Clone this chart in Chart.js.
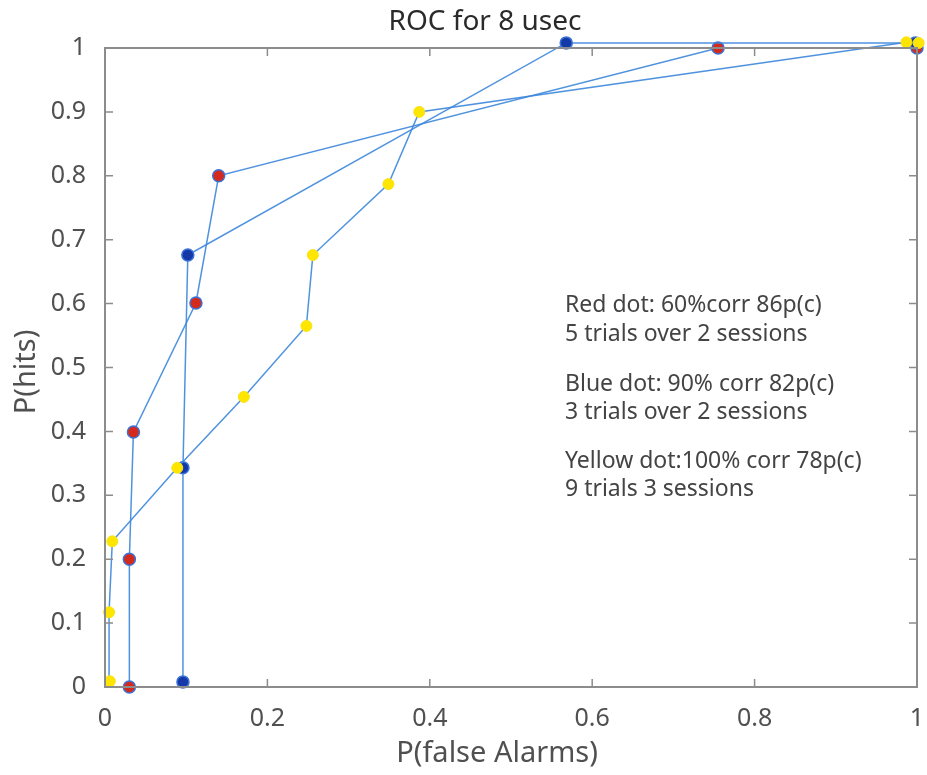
<!DOCTYPE html>
<html>
<head>
<meta charset="utf-8">
<script src="https://cdn.jsdelivr.net/npm/chart.js@4"></script>
<style>
  html, body { margin: 0; padding: 0; background: #fff; }
  #wrap { width: 927px; height: 775px; }
</style>
</head>
<body>
<div id="wrap"><canvas id="chart"></canvas></div>
<script>
let redX = [0.03, 0.03, 0.035, 0.112, 0.140, 0.755, 1.0];
let redY = [0.0, 0.2, 0.399, 0.601, 0.8, 1.0, 1.0];

let blueX = [0.096, 0.096, 0.102, 0.568, 0.998];
let blueY = [0.008, 0.343, 0.676, 1.008, 1.008];

let yellowX = [0.006, 0.005, 0.009, 0.089, 0.171, 0.248, 0.256, 0.349, 0.387, 0.987, 1.002];
let yellowY = [0.009, 0.117, 0.228, 0.343, 0.454, 0.565, 0.676, 0.787, 0.900, 1.009, 1.008];

let xTicks = [0, 0.2, 0.4, 0.6, 0.8, 1];
let xTickLabels = ['0', '0.2', '0.4', '0.6', '0.8', '1'];
let yTicks = [0, 0.1, 0.2, 0.3, 0.4, 0.5, 0.6, 0.7, 0.8, 0.9, 1];
let yTickLabels = ['0', '0.1', '0.2', '0.3', '0.4', '0.5', '0.6', '0.7', '0.8', '0.9', '1'];

let notes = [
  'Red dot: 60%corr 86p(c)',
  '5 trials over 2 sessions',
  'Blue dot: 90% corr 82p(c)',
  '3 trials over 2 sessions',
  'Yellow dot:100% corr 78p(c)',
  '9 trials 3 sessions'
];

let fontFam = '"Noto Sans", "Open Sans", sans-serif';
let lineColor = 'rgba(60,135,220,0.9)';

let toPoints = (xs, ys) => xs.map((x, i) => ({ x: x, y: ys[i] }));

// box round the axes, inward ticks on all four sides, and the texts
let boxPlugin = {
  id: 'box',
  afterDraw: (chart) => {
    let ctx = chart.ctx;
    let a = chart.chartArea;
    let xs = chart.scales.x;
    let ys = chart.scales.y;
    ctx.save();
    ctx.strokeStyle = '#8c8c8c';
    ctx.lineWidth = 2;
    ctx.strokeRect(a.left, a.top, a.right - a.left, a.bottom - a.top);
    ctx.lineWidth = 1.5;
    ctx.beginPath();
    let tl = 8;
    xTicks.forEach((v) => {
      let p = xs.getPixelForValue(v);
      ctx.moveTo(p, a.bottom); ctx.lineTo(p, a.bottom - tl);
      ctx.moveTo(p, a.top); ctx.lineTo(p, a.top + tl);
    });
    yTicks.forEach((v) => {
      let p = ys.getPixelForValue(v);
      ctx.moveTo(a.left, p); ctx.lineTo(a.left + tl, p);
      ctx.moveTo(a.right, p); ctx.lineTo(a.right - tl, p);
    });
    ctx.stroke();

    ctx.fillStyle = '#2a2a2a';
    ctx.textAlign = 'center';
    ctx.textBaseline = 'middle';
    ctx.font = '28px ' + fontFam;
    ctx.fillText('ROC for 8 usec', 485, 22);

    ctx.fillStyle = '#505050';
    ctx.font = '29px ' + fontFam;
    ctx.fillText('P(false Alarms)', 497, 754);
    ctx.save();
    ctx.translate(27, 372);
    ctx.rotate(-Math.PI / 2);
    ctx.fillText('P(hits)', 0, 0);
    ctx.restore();

    ctx.fillStyle = '#444';
    ctx.textAlign = 'left';
    ctx.font = '23px ' + fontFam;
    let noteY = [305, 334, 384, 412, 461, 489];
    notes.forEach((t, i) => ctx.fillText(t, 565, noteY[i]));
    ctx.restore();
  }
};

let chart = new Chart(document.getElementById('chart'), {
  type: 'scatter',
  data: {
    datasets: [
      {
        label: 'Yellow',
        data: toPoints(yellowX, yellowY),
        showLine: true,
        borderColor: lineColor,
        borderWidth: 1.5,
        pointRadius: 5.5,
        pointBackgroundColor: '#ffe600',
        pointBorderColor: '#f7e21a',
        pointBorderWidth: 1,
        clip: false
      },
      {
        label: 'Blue',
        data: toPoints(blueX, blueY),
        showLine: true,
        borderColor: lineColor,
        borderWidth: 1.5,
        pointRadius: 6,
        pointBackgroundColor: '#1438a8',
        pointBorderColor: '#3b72d6',
        pointBorderWidth: 1.5,
        clip: false
      },
      {
        label: 'Red',
        data: toPoints(redX, redY),
        showLine: true,
        borderColor: lineColor,
        borderWidth: 1.5,
        pointRadius: 6,
        pointBackgroundColor: '#d42a1e',
        pointBorderColor: '#3b72d6',
        pointBorderWidth: 1.5,
        clip: false
      }
    ]
  },
  options: {
    responsive: true,
    maintainAspectRatio: false,
    animation: false,
    layout: { padding: { top: 48, right: 10, left: 0, bottom: 0 } },
    plugins: {
      legend: { display: false },
      tooltip: { enabled: false }
    },
    scales: {
      x: {
        type: 'linear',
        min: 0,
        max: 1,
        afterBuildTicks: (scale) => { scale.ticks = xTicks.map((v) => ({ value: v })); },
        afterFit: (scale) => {
          scale.height = 88;
          scale.paddingLeft = 0;
          scale.paddingRight = 0;
        },
        grid: { display: false },
        border: { display: false },
        ticks: {
          callback: (v, i) => xTickLabels[i],
          font: { size: 25, family: fontFam },
          color: '#505050',
          padding: 9,
          maxRotation: 0
        }
      },
      y: {
        type: 'linear',
        min: 0,
        max: 1,
        afterBuildTicks: (scale) => { scale.ticks = yTicks.map((v) => ({ value: v })); },
        afterFit: (scale) => {
          scale.width = 105;
          scale.paddingTop = 0;
          scale.paddingBottom = 0;
        },
        grid: { display: false },
        border: { display: false },
        ticks: {
          callback: (v, i) => yTickLabels[i],
          font: { size: 25, family: fontFam },
          color: '#505050',
          padding: 11
        }
      }
    }
  },
  plugins: [boxPlugin]
});
</script>
</body>
</html>
